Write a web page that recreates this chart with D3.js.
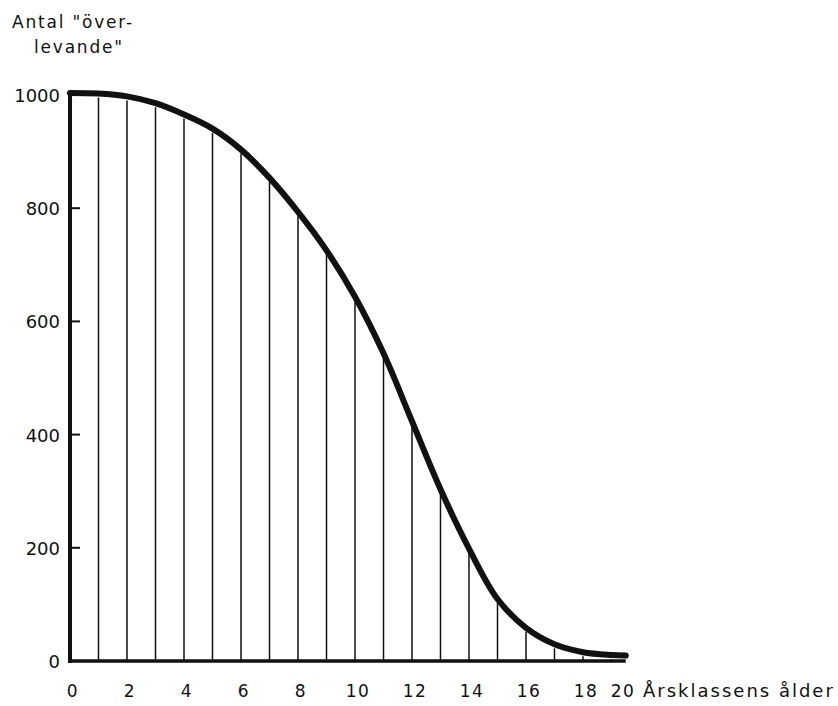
<!DOCTYPE html>
<html>
<head>
<meta charset="utf-8">
<script src="https://cdn.jsdelivr.net/npm/d3@7"></script>
<style>
  body { margin: 0; background: #fff; }
  text { font-family: "DejaVu Sans", sans-serif; fill: #111; }
</style>
</head>
<body>
<div id="chart"></div>
<script>
var svgWidth = 838;
var svgHeight = 706;

// survivors per age class
var ages = [0, 1, 2, 3, 4, 5, 6, 7, 8, 9, 10, 11, 12, 13, 14, 15, 16, 17, 18, 19, 19.5];
var survivors = [1000, 999, 994, 982, 962, 937, 900, 850, 790, 722, 640, 540, 420, 300, 195, 106, 55, 26, 12, 7, 6];

var xTicks = [0, 2, 4, 6, 8, 10, 12, 14, 16, 18, 20];
var yTicks = [0, 200, 400, 600, 800, 1000];

var data = ages.map(function(a, i) { return { age: a, n: survivors[i] }; });

var svg = d3.select("#chart")
  .append("svg")
  .attr("width", svgWidth)
  .attr("height", svgHeight);

var x = d3.scaleLinear().domain([0, 20]).range([70, 640]);
var y = d3.scaleLinear().domain([0, 1000]).range([661, 95]);

// vertical lines for each whole age class
var whole = data.filter(function(d) { return d.age % 1 === 0 && d.age > 0; });
svg.selectAll("line.age")
  .data(whole)
  .enter()
  .append("line")
  .attr("class", "age")
  .attr("x1", function(d) { return x(d.age); })
  .attr("x2", function(d) { return x(d.age); })
  .attr("y1", y(0))
  .attr("y2", function(d) { return y(d.n) + 2; })
  .attr("stroke", "#111")
  .attr("stroke-width", 1.5);

// y axis line
svg.append("line")
  .attr("x1", x(0)).attr("x2", x(0))
  .attr("y1", y(0) + 2).attr("y2", y(1000) - 4)
  .attr("stroke", "#111")
  .attr("stroke-width", 4);

// x axis line
svg.append("line")
  .attr("x1", x(0) - 2).attr("x2", x(19.5))
  .attr("y1", y(0)).attr("y2", y(0))
  .attr("stroke", "#111")
  .attr("stroke-width", 3.5);

// small inward ticks on the y axis
svg.selectAll("line.ytick")
  .data(yTicks.filter(function(v) { return v > 0 && v < 1000; }))
  .enter()
  .append("line")
  .attr("class", "ytick")
  .attr("x1", x(0)).attr("x2", x(0) + 10)
  .attr("y1", function(v) { return y(v); })
  .attr("y2", function(v) { return y(v); })
  .attr("stroke", "#111")
  .attr("stroke-width", 2);

// survival curve
var line = d3.line()
  .x(function(d) { return x(d.age); })
  .y(function(d) { return y(d.n) - 2; })
  .curve(d3.curveCatmullRom.alpha(0.5));

svg.append("path")
  .datum(data)
  .attr("d", line)
  .attr("fill", "none")
  .attr("stroke", "#111")
  .attr("stroke-width", 6)
  .attr("stroke-linecap", "round")
  .attr("stroke-linejoin", "round");

// y labels
svg.selectAll("text.ylab")
  .data(yTicks)
  .enter()
  .append("text")
  .attr("class", "ylab")
  .attr("x", 60)
  .attr("y", function(v) { return y(v) + 7; })
  .attr("text-anchor", "end")
  .style("font-size", "18px")
  .text(function(v) { return v; });

// x labels
svg.selectAll("text.xlab")
  .data(xTicks)
  .enter()
  .append("text")
  .attr("class", "xlab")
  .attr("x", function(v) { return v === 20 ? x(v) - 17 : x(v) + 3; })
  .attr("y", 697)
  .attr("text-anchor", "middle")
  .style("font-size", "17px")
  .style("letter-spacing", "1.5px")
  .text(function(v) { return v; });

svg.append("text")
  .attr("x", 643)
  .attr("y", 697)
  .style("font-size", "18px")
  .style("letter-spacing", "2px")
  .text("Årsklassens ålder");

svg.append("text")
  .attr("x", 12)
  .attr("y", 28)
  .style("font-size", "17px")
  .style("letter-spacing", "1.8px")
  .text("Antal \"över-");

svg.append("text")
  .attr("x", 34)
  .attr("y", 53)
  .style("font-size", "17px")
  .style("letter-spacing", "1.8px")
  .text("levande\"");
</script>
</body>
</html>
